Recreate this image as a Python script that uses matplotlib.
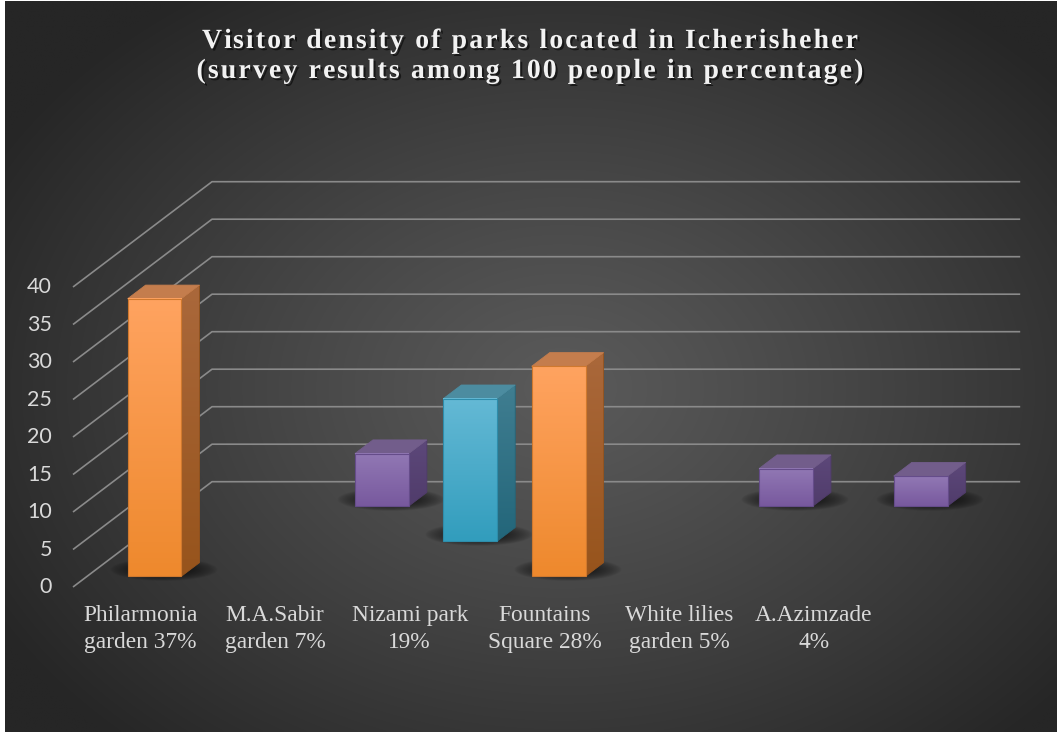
import numpy as np
import matplotlib
matplotlib.use("Agg")
import matplotlib.pyplot as plt
from matplotlib.patches import Polygon
from matplotlib.colors import to_rgb
from matplotlib.font_manager import FontProperties
import matplotlib.patheffects as pe

# ---------------- data ----------------
title_lines = ["Visitor density of parks located in Icherisheher",
               "(survey results among 100 people in percentage)"]
categories = ["Philarmonia\ngarden 37%", "M.A.Sabir\ngarden 7%", "Nizami park\n19%",
              "Fountains\nSquare 28%", "White lilies\ngarden 5%", "A.Azimzade\n4%"]
values = [37, 7, 19, 28, 5, 4]
series_row = [0, 2, 1, 0, 2, 2]          # depth row: 0 front (orange), 1 middle (blue), 2 back (purple)
y_ticks = [0, 5, 10, 15, 20, 25, 30, 35, 40]

row_style = {
    0: dict(ft="#FFA360", fb="#EE892D", st="#AA683B", sb="#97541C", top="#C47D4D", edge="#D0792E"),
    1: dict(ft="#64B9D5", fb="#329DBD", st="#407E91", sb="#23667A", top="#4C8CA0", edge="#2E8DAB"),
    2: dict(ft="#9178B4", fb="#78599E", st="#5D487A", sb="#503C6B", top="#725D8B", edge="#654C8A"),
}

# ---------------- geometry (oblique projection) ----------------
DX, DY = 1.032, 14.04      # shift of full depth in category / value units
N_ROWS = 3
BAR_W, BAR_D = 0.40, 0.13
N_CAT = len(categories)


def proj(x, v, d):
    return (x + d * DX, v + d * DY)


W, H = 1061, 733
fig = plt.figure(figsize=(W / 100, H / 100), dpi=100, facecolor="white")

# background radial gradient
bg = fig.add_axes([5 / W, 1 / H, 1052 / W, 731 / H])
gx, gy = np.meshgrid(np.linspace(0, 1, 420), np.linspace(0, 1, 300))
r = np.sqrt(((gx - 0.53) / 0.62) ** 2 + ((gy - 0.47) / 0.66) ** 2)
t = np.clip(r, 0, 1) ** 1.15
c_in, c_out = np.array(to_rgb("#5A5A5A")), np.array(to_rgb("#262626"))
img = c_in[None, None, :] * (1 - t[..., None]) + c_out[None, None, :] * t[..., None]
bg.imshow(img, extent=[0, 1, 0, 1], origin="lower", aspect="auto", interpolation="bilinear")
bg.set_axis_off()

ax = fig.add_axes([0, 0, 1, 1])
ax.patch.set_alpha(0)
ax.set_axis_off()

# gridlines: left side wall + back wall
grid_c = "#8A8A8A"
for v in y_ticks:
    p0 = proj(0, v, 0)
    p1 = proj(0, v, 1)
    p2 = proj(N_CAT, v, 1)
    ax.plot([p0[0], p1[0], p2[0]], [p0[1], p1[1], p2[1]], color=grid_c, lw=1.2,
            solid_capstyle="butt", zorder=1)
    ax.text(-0.156, v, str(v), ha="right", va="center", fontsize=15.5,
            family="Lato", color="#D9D9D9", zorder=10)


def vgrad(c_bot, c_top, n=64):
    a, b = np.array(to_rgb(c_bot)), np.array(to_rgb(c_top))
    s = np.linspace(0, 1, n)[:, None, None]
    return a[None, None, :] * (1 - s) + b[None, None, :] * s


# shadows
for i, (v, row) in enumerate(zip(values, series_row)):
    xc = i + 0.5
    dc = (row + 0.5) / N_ROWS
    cx, cy = proj(xc, 0, dc)
    hw, hh = 0.40, 1.5
    sx, sy = np.meshgrid(np.linspace(-1, 1, 120), np.linspace(-1, 1, 60))
    rr = np.sqrt(sx ** 2 + sy ** 2)
    alpha = 0.9 * np.clip(1 - rr, 0, 1) ** 0.7
    simg = np.zeros((60, 120, 4))
    simg[..., 3] = alpha
    ax.imshow(simg, extent=[cx - hw, cx + hw, cy - hh, cy + hh], origin="lower",
              aspect="auto", interpolation="bilinear", zorder=2)

# bars, back rows first
order = sorted(range(N_CAT), key=lambda k: -series_row[k])
for i in order:
    v, row = values[i], series_row[i]
    st = row_style[row]
    z = 3 + (N_ROWS - row) * 0.5
    xc = i + 0.5
    dc = (row + 0.5) / N_ROWS
    d0, d1 = dc - BAR_D / 2, dc + BAR_D / 2
    x0, x1 = xc - BAR_W / 2, xc + BAR_W / 2

    # side face
    side = [proj(x1, 0, d0), proj(x1, 0, d1), proj(x1, v, d1), proj(x1, v, d0)]
    sp = Polygon(side, closed=True, facecolor="none", edgecolor="none", zorder=z)
    ax.add_patch(sp)
    xs = [p[0] for p in side]
    ys = [p[1] for p in side]
    im = ax.imshow(vgrad(st["sb"], st["st"]), extent=[min(xs), max(xs), min(ys), max(ys)],
                   origin="lower", aspect="auto", interpolation="bilinear", zorder=z)
    im.set_clip_path(sp)
    ax.add_patch(Polygon(side, closed=True, facecolor="none", edgecolor=st["sb"],
                         lw=0.6, zorder=z + 0.01))

    # top face
    top = [proj(x0, v, d0), proj(x1, v, d0), proj(x1, v, d1), proj(x0, v, d1)]
    ax.add_patch(Polygon(top, closed=True, facecolor=st["top"], edgecolor=st["top"],
                         lw=0.6, zorder=z + 0.02))

    # front face
    fx0, fy0 = proj(x0, 0, d0)
    fx1, fy1 = proj(x1, v, d0)
    ax.imshow(vgrad(st["fb"], st["ft"]), extent=[fx0, fx1, fy0, fy1], origin="lower",
              aspect="auto", interpolation="bilinear", zorder=z + 0.03)
    ax.add_patch(Polygon([(fx0, fy0), (fx1, fy0), (fx1, fy1), (fx0, fy1)], closed=True,
                         facecolor="none", edgecolor=st["edge"], lw=0.8, zorder=z + 0.04))

# category labels (two lines each)
line_v = [-4.53, -8.07]
for i, lab in enumerate(categories):
    for k, ln in enumerate(lab.split("\n")):
        ax.text(i + 0.5, line_v[k], ln, ha="center", va="baseline", fontsize=16.8,
                family="Liberation Serif", color="#D9D9D9", zorder=10)

ax.set_xlim(-73 / 134.7, (W - 73) / 134.7)
ax.set_ylim(-146 / 7.5, (H - 146) / 7.5)

# title with letter spacing
fp = FontProperties(family="Liberation Serif", weight="bold", size=20)
renderer = fig.canvas.get_renderer()


def text_w(s):
    tt = fig.text(0, 0, s, fontproperties=fp)
    w = tt.get_window_extent(renderer).width
    tt.remove()
    return w


title_targets = [(48, 656), (78, 667)]   # baseline (px from top), total width px
w_l = text_w("l")
shadow = [pe.withSimplePatchShadow(offset=(1.5, -1.5), shadow_rgbFace="black", alpha=0.55)]
for line, (base_px, target) in zip(title_lines, title_targets):
    n = len(line)
    starts = [0.0] + [text_w(line[:k] + "l") - w_l for k in range(1, n)]
    natural = text_w(line)
    track = (target - natural) / (n - 1)
    left = 530 - target / 2
    for k, ch in enumerate(line):
        if ch == " ":
            continue
        px = left + starts[k] + k * track
        fig.text(px / W, 1 - base_px / H, ch, fontproperties=fp, color="#F2F2F2",
                 ha="left", va="baseline", path_effects=shadow, zorder=10)

fig.savefig("out.png", dpi=100, facecolor=fig.get_facecolor())
